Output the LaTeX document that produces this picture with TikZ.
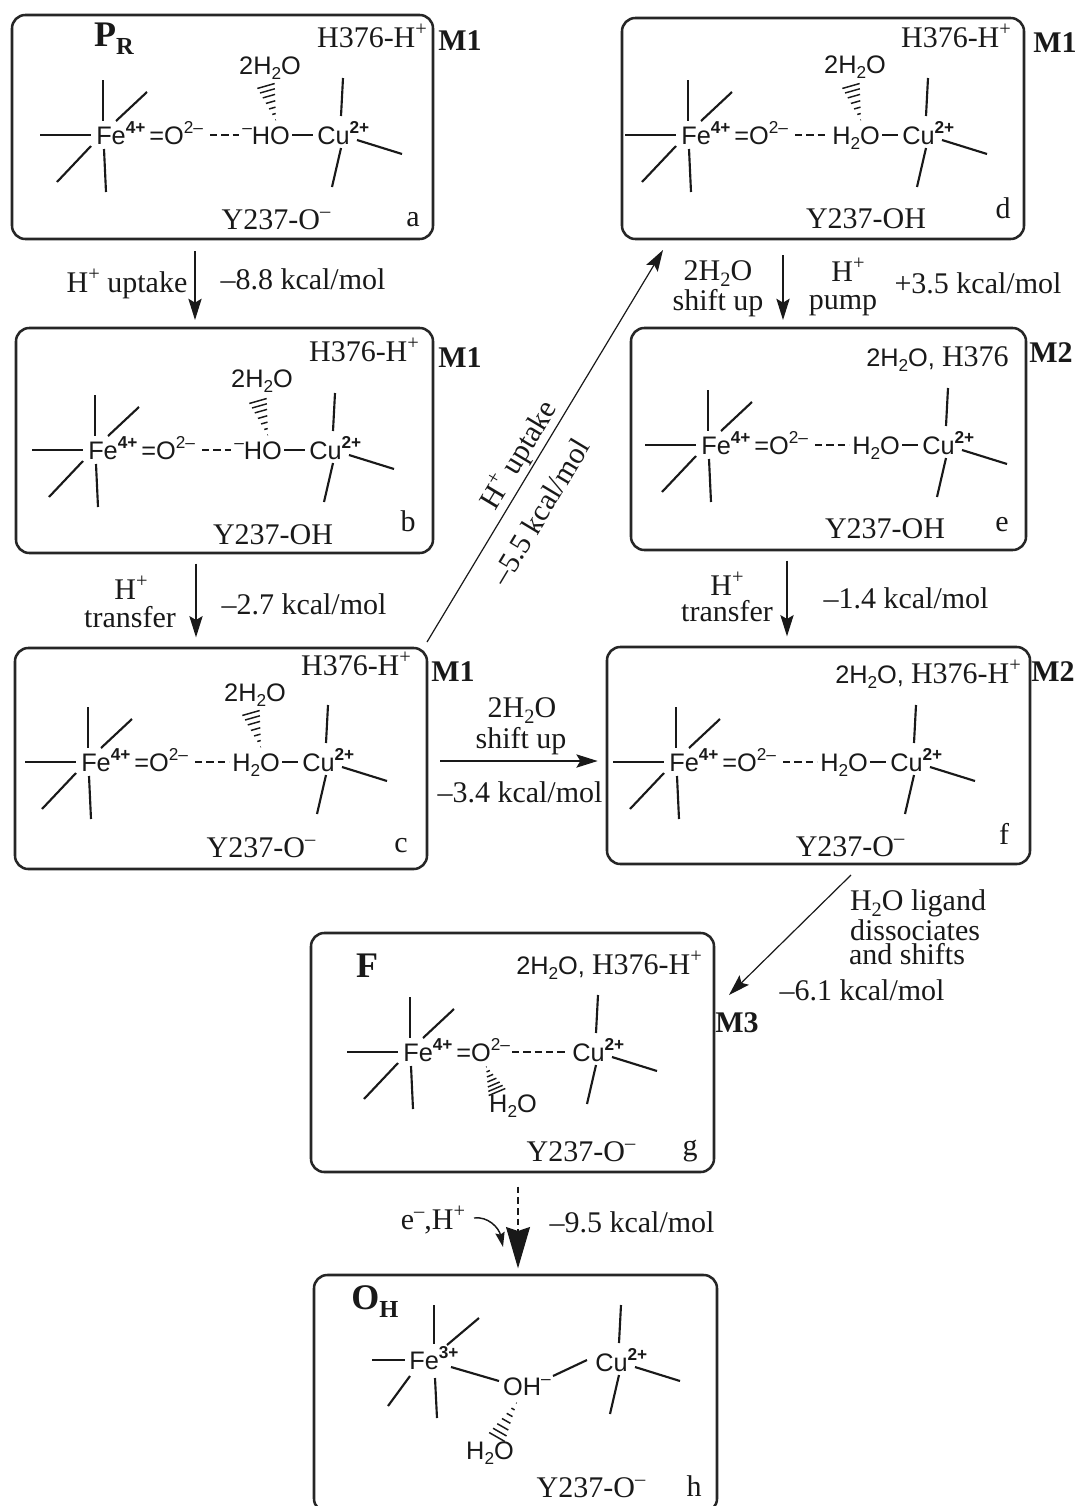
\documentclass[tikz,border=0pt]{standalone}
\usepackage{fontspec}
\setmainfont{Liberation Serif}
\newfontfamily\sansF{Liberation Sans}
\usetikzlibrary{arrows.meta,calc}
\newcommand\sUp[1]{\raisebox{.42em}{\scalebox{.68}{#1}}}
\newcommand\sDn[1]{\raisebox{-.2em}{\scalebox{.68}{#1}}}
\newcommand\wat{H\sDn{2}O}
\newcommand\twat{2H\sDn{2}O}
\newcommand\serT[1]{{\fontsize{22.5}{24}\selectfont\rmfamily #1}}
\tikzset{
  x=.75pt,y=-.75pt,
  mbox/.style={draw=black!85,line width=1.9pt,rounded corners=10pt,inner sep=0,outer sep=0},
  ser/.style={font=\fontsize{22.5}{25}\selectfont,inner sep=0,text height=.66em,text depth=0pt,text=black!90,yshift=-4.1pt},
  bld/.style={font=\fontsize{22.5}{25}\selectfont\bfseries,inner sep=0,text height=.66em,text depth=0pt,text=black!90,yshift=-4.1pt},
  big/.style={font=\fontsize{27}{29}\selectfont\bfseries,inner sep=0,text height=.66em,text depth=0pt,text=black!90,yshift=-4.1pt},
  san/.style={font=\fontsize{19}{22}\selectfont\sansF,inner sep=0,text height=.72em,text depth=0pt,text=black!90,yshift=-3.6pt},
  bond/.style={line width=1.6pt,draw=black!90},
  dbond/.style={line width=1.7pt,draw=black!90,dash pattern=on 5.5pt off 3pt},
  hs/.style={line width=1.1pt,draw=black!90},
  arr/.style={line width=.9pt,draw=black!90,-{Stealth[length=16pt,width=10pt,inset=3pt]}},
}
% name x1 y1 x2 y2
\newcommand\boxN[5]{%
  \pgfmathsetmacro\bx{(#2+#4)/2}\pgfmathsetmacro\by{(#3+#5)/2}%
  \pgfmathsetmacro\bw{(#4-#2)*.75}\pgfmathsetmacro\bh{(#5-#3)*.75}%
  \node[mbox,minimum width=\bw pt,minimum height=\bh pt] (#1) at (\bx,\by) {};}
% name x y charge
\newcommand\feL[4]{%
  \begin{scope}[shift={(#2,#3)}]
    \node[san,anchor=west] (#1fe) at (-14,0) {Fe\sUp{\bfseries #4}};
    \draw[bond] (-70,0)--(-19,0);
    \draw[bond] (-7,-55)--(-7,-14);
    \draw[bond] (6,-14)--(37,-43);
    \draw[bond] (-53,47)--(-19,11);
    \draw[bond] (-6,14)--(-4,57);
  \end{scope}}
% name x y
\newcommand\cuL[3]{%
  \begin{scope}[shift={(#2,#3)}]
    \node[san,anchor=west] (#1cu) at (-23,0) {Cu\sUp{\bfseries 2+}};
    \draw[bond] (3,-57)--(1,-19);
    \draw[bond] (17,5)--(62,19);
    \draw[bond] (1,13)--(-8,52);
  \end{scope}}
% name x y dash-start dash-end group
\newcommand\chainL[6]{%
  \begin{scope}[shift={(#2,#3)}]
    \node[san,anchor=west] (#1o) at (39,0) {=O\sUp{2–}};
    \draw[dbond] (#4,0)--(#5-2,0);
    \node[san,anchor=west] (#1g) at (#5+1,0) {#6};
    \draw[bond] (#5+51,0)--(203,0);
  \end{scope}}
% tipx tipy widex widey halfwidth
\newcommand\hashB[5]{%
  \pgfmathsetmacro\hdx{#3-#1}\pgfmathsetmacro\hdy{#4-#2}%
  \pgfmathsetmacro\hl{sqrt(\hdx*\hdx+\hdy*\hdy)}%
  \foreach \t in {0.03,0.2,0.37,0.54,0.71,0.86,1.0}{%
    \pgfmathsetmacro\cx{#1+\t*\hdx}\pgfmathsetmacro\cy{#2+\t*\hdy}%
    \pgfmathsetmacro\ox{-\hdy/\hl*#5*\t}\pgfmathsetmacro\oy{\hdx/\hl*#5*\t}%
    \draw[hs] (\cx-\ox,\cy-\oy)--(\cx+\ox,\cy+\oy);}}
\begin{document}
\begin{tikzpicture}
\useasboundingbox (0,0) rectangle (1078,1506);
\begin{scope}
\clip (0,0) rectangle (1078,1506);
\boxN{a}{12}{15}{433}{239}
\boxN{b}{16}{328}{433}{553}
\boxN{c}{15}{648}{427}{869}
\boxN{d}{622}{18}{1024}{239}
\boxN{e}{631}{328}{1026}{550}
\boxN{f}{607}{647}{1030}{864}
\boxN{g}{311}{933}{714}{1172}
\boxN{h}{314}{1275}{717}{1512}
\end{scope}

% --- a
\feL{a}{110}{135}{4+}\chainL{a}{110}{135}{100}{131}{\sUp{–}HO}\cuL{a}{340}{135}
\hashB{276}{121}{266}{86}{9}
\node[san] (aw) at (270,65) {\twat};
\node[big] (an) at (114,37) {P\sDn{R}};
\node[ser] (at) at (372,38) {H376-H\sUp{+}};
\node[bld] (am) at (460,41) {M1};
\node[ser] (ay) at (276,220) {Y237-O\sUp{–}};
\node[ser] (al) at (413,217) {a};
% --- b
\feL{b}{102}{450}{4+}\chainL{b}{102}{450}{100}{131}{\sUp{–}HO}\cuL{b}{332}{450}
\hashB{268}{436}{258}{401}{9}
\node[san] (bw) at (262,378) {\twat};
\node[ser] (bt) at (364,352) {H376-H\sUp{+}};
\node[bld] (bm) at (460,358) {M1};
\node[ser] (by) at (273,535) {Y237-OH};
\node[ser] (bl) at (408,522) {b};
% --- c
\feL{c}{95}{762}{4+}\chainL{c}{95}{762}{100}{136}{\wat}\cuL{c}{325}{762}
\hashB{261}{748}{251}{713}{9}
\node[san] (cw) at (255,692) {\twat};
\node[ser] (ct) at (356,666) {H376-H\sUp{+}};
\node[bld] (cm) at (453,672) {M1};
\node[ser] (cy) at (261,848) {Y237-O\sUp{–}};
\node[ser] (cl) at (401,843) {c};
% --- d
\feL{d}{695}{135}{4+}\chainL{d}{695}{135}{100}{136}{\wat}\cuL{d}{925}{135}
\hashB{861}{121}{851}{86}{9}
\node[san] (dw) at (855,64) {\twat};
\node[ser] (dt) at (956,38) {H376-H\sUp{+}};
\node[bld] (dm) at (1055,43) {M1};
\node[ser] (dy) at (866,219) {Y237-OH};
\node[ser] (dl) at (1003,209) {d};
% --- e
\feL{e}{715}{445}{4+}\chainL{e}{715}{445}{100}{136}{\wat}\cuL{e}{945}{445}
\node[san,anchor=west] (ew) at (866,357) {\twat,~\serT{H376}};
\node[bld] (em) at (1051,353) {M2};
\node[ser] (ey) at (885,529) {Y237-OH};
\node[ser] (el) at (1002,522) {e};
% --- f
\feL{f}{683}{762}{4+}\chainL{f}{683}{762}{100}{136}{\wat}\cuL{f}{913}{762}
\node[san,anchor=west] (fw) at (835,674) {\twat,~\serT{H376-H\sUp{+}}};
\node[bld] (fm) at (1053,672) {M2};
\node[ser] (fy) at (850,847) {Y237-O\sUp{–}};
\node[ser] (fl) at (1004,835) {f};
% --- g
\feL{g}{417}{1052}{4+}\cuL{g}{595}{1052}
\node[san,anchor=west] (go) at (456,1052) {=O\sUp{2–}};
\coordinate (gdA) at (512,1052);
\coordinate (gdB) at (565,1052);
\draw[dbond] (gdA)--(gdB);
\hashB{486}{1066}{497}{1092}{9}
\node[san] (gw) at (513,1103) {\wat};
\node[big] (gn) at (367,968) {F};
\node[san,anchor=west] (gt) at (516,965) {\twat,~\serT{H376-H\sUp{+}}};
\node[bld] (gm) at (737,1023) {M3};
\node[ser] (gy) at (581,1152) {Y237-O\sUp{–}};
\node[ser] (gl) at (690,1146) {g};
% --- h
\node[san,anchor=west] (hfe) at (409,1360) {Fe\sUp{\bfseries 3+}};
\draw[bond] (372,1360)--(405,1360);
\draw[bond] (434,1305)--(434,1344);
\draw[bond] (447,1345)--(479,1318);
\draw[bond] (388,1406)--(410,1376);
\draw[bond] (435,1378)--(437,1418);
\node[san] (hoh) at (527,1386) {OH\sUp{–}};
\coordinate (hbA) at (451,1367);
\coordinate (hbB) at (499,1381);
\coordinate (hbC) at (553,1376);
\coordinate (hbD) at (587,1360);
\draw[bond] (hbA)--(hbB);
\cuL{h}{618}{1362}
\draw[bond] (hbC)--(hbD);
\hashB{517}{1402}{497}{1437}{9}
\node[san] (hw) at (490,1450) {\wat};
\node[big] (hn) at (375,1300) {O\sDn{H}};
\node[ser] (hy) at (591,1488) {Y237-O\sUp{–}};
\node[ser] (hl) at (694,1487) {h};

% --- connectors
\coordinate (xab) at (195,0);
\draw[arr,shorten <=9pt,shorten >=6pt] (a.south -| xab)--(b.north -| xab);
\node[ser] (ab1) at (127,283) {H\sUp{+} uptake};
\node[ser] (ab2) at (303,280) {–8.8 kcal/mol};

\coordinate (xbc) at (196,0);
\draw[arr,shorten <=8pt,shorten >=8pt] (b.south -| xbc)--(c.north -| xbc);
\node[ser] (bc1) at (131,590) {H\sUp{+}};
\node[ser] (bc2) at (130,618) {transfer};
\node[ser] (bc3) at (304,605) {–2.7 kcal/mol};

\coordinate (cdA) at (427,642);
\coordinate (cdB) at (663,250);
\draw[arr] (cdA)--(cdB);
\node[ser,rotate=59] (cd1) at (523,452) {H\sUp{+} uptake};
\node[ser,rotate=59] (cd2) at (545,509) {–5.5 kcal/mol};

\coordinate (cfy) at (0,761);
\draw[arr,shorten <=10pt,shorten >=7pt] (c.east |- cfy)--(f.west |- cfy);
\node[ser] (cf1) at (522,708) {2H\sDn{2}O};
\node[ser] (cf2) at (521,739) {shift up};
\node[ser] (cf3) at (520,793) {–3.4 kcal/mol};

\coordinate (xde) at (783,0);
\draw[arr,shorten <=12pt,shorten >=6pt] (d.south -| xde)--(e.north -| xde);
\node[ser] (de1) at (718,271) {2H\sDn{2}O};
\node[ser] (de2) at (718,301) {shift up};
\node[ser] (de3) at (848,272) {H\sUp{+}};
\node[ser] (de4) at (843,300) {pump};
\node[ser] (de5) at (978,284) {+3.5 kcal/mol};

\coordinate (xef) at (787,0);
\draw[arr,shorten <=8pt,shorten >=8pt] (e.south -| xef)--(f.north -| xef);
\node[ser] (ef1) at (727,586) {H\sUp{+}};
\node[ser] (ef2) at (727,612) {transfer};
\node[ser] (ef3) at (906,599) {–1.4 kcal/mol};

\coordinate (fgA) at (851,875);
\coordinate (fgB) at (729,995);
\draw[arr] (fgA)--(fgB);
\node[ser] (fg1) at (918,901) {H\sDn{2}O ligand};
\node[ser] (fg2) at (915,931) {dissociates};
\node[ser] (fg3) at (907,955) {and shifts};
\node[ser] (fg4) at (862,991) {–6.1 kcal/mol};

\coordinate (xgh) at (518,0);
\draw[line width=.9pt,draw=black!90,dash pattern=on 5pt off 3pt,shorten <=11pt,shorten >=5pt,
  -{Stealth[length=31pt,width=18pt,inset=3pt]}] (g.south -| xgh)--(h.north -| xgh);
\node[ser] (gh1) at (433,1220) {e\sUp{–},H\sUp{+}};
\coordinate (ghB) at (474,1218);
\coordinate (ghC) at (503,1247);
\draw[line width=1.1pt,draw=black!90,-{Stealth[length=11pt,width=7pt,inset=1.5pt]}] (ghB) .. controls (488,1216) and (499,1228) .. (ghC);
\node[ser] (gh2) at (632,1223) {–9.5 kcal/mol};
\end{tikzpicture}
\end{document}
